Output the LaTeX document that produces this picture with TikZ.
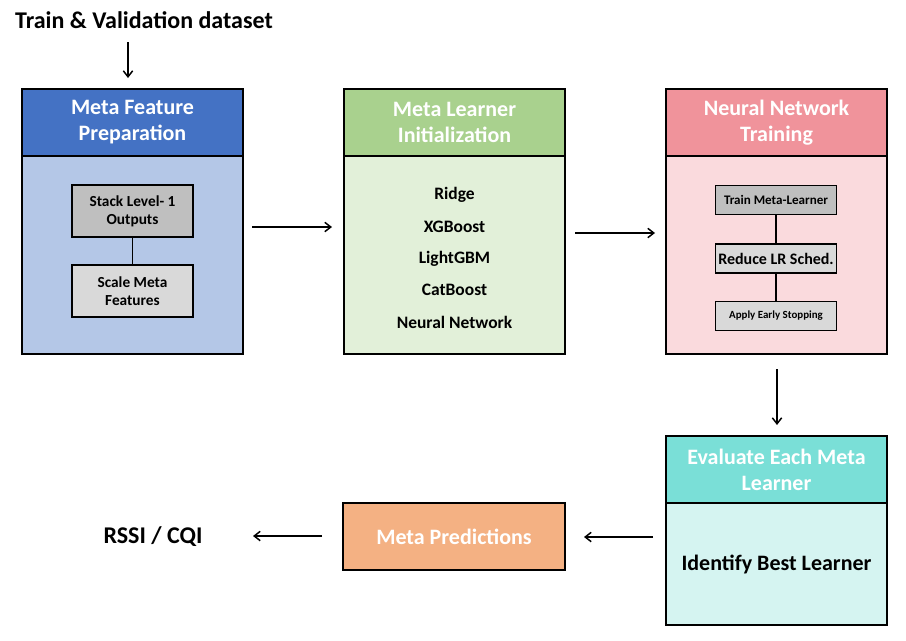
\documentclass[tikz,border=0pt]{standalone}
\usepackage{fontspec}
\setmainfont{Carlito}
\usetikzlibrary{arrows.meta}
\definecolor{hblue}{HTML}{4472C4}
\definecolor{bblue}{HTML}{B4C7E7}
\definecolor{hgreen}{HTML}{A9D18E}
\definecolor{bgreen}{HTML}{E2F0D9}
\definecolor{hpink}{HTML}{F0939B}
\definecolor{bpink}{HTML}{FADADD}
\definecolor{hteal}{HTML}{7ADFD7}
\definecolor{bteal}{HTML}{D5F4F1}
\definecolor{horange}{HTML}{F4B183}
\definecolor{gdark}{HTML}{BFBFBF}
\definecolor{glight}{HTML}{D9D9D9}
\tikzset{
  header/.style={draw=black, line width=1.5pt, minimum width=165.75pt, minimum height=50.25pt,
    text=white, font=\fontsize{16.5}{19.5}\selectfont\bfseries, align=center, inner sep=0pt},
  body/.style={draw=black, line width=1.5pt, minimum width=165.75pt, minimum height=148.5pt, inner sep=0pt},
  inner/.style={draw=black, line width=1.2pt, minimum width=90.5pt, inner sep=0pt, align=center,
    font=\fontsize{11.5}{13.5}\selectfont\bfseries},
  item/.style={font=\fontsize{13.1}{15}\selectfont\bfseries, inner sep=0pt},
  plain/.style={font=\fontsize{16.5}{19}\selectfont\bfseries, inner sep=0pt},
  arr/.style={line width=1.1pt, -{Straight Barb[length=4.5pt,width=7pt,line width=1.1pt]}},
  link/.style={line width=1.2pt}
}
\begin{document}
\begin{tikzpicture}[x=0.75pt,y=-0.75pt]
\useasboundingbox (0,0) rectangle (906,640);
% title
\node[font=\fontsize{18}{21}\selectfont\bfseries, inner sep=0pt] (title) at (144,20) {Train \& Validation dataset};
\coordinate (t0) at (128,42);
\coordinate (t1) at (128,78);
\draw[arr] (t0) -- (t1);
% box 1
\node[body, fill=bblue] (b1) at (132.5,255) {};
\node[header, fill=hblue] (h1) at (132.5,122.5) {Meta Feature\\Preparation};
\node[inner, fill=gdark, minimum height=39pt] (s1) at (132.5,211) {Stack Level- 1\\Outputs};
\node[inner, fill=glight, minimum height=39pt] (s2) at (132.5,291) {Scale Meta\\Features};
\draw[link] (s1) -- (s2);
% box 2
\node[body, fill=bgreen] (b2) at (454.5,255) {};
\node[header, fill=hgreen] (h2) at (454.5,122.5) {Meta Learner\\Initialization};
\node[item] (i1) at (454.5,195) {Ridge};
\node[item] (i2) at (454.5,227) {XGBoost};
\node[item] (i3) at (454.5,259) {LightGBM};
\node[item] (i4) at (454.5,290) {CatBoost};
\node[item] (i5) at (454.5,322) {Neural Network};
% box 3
\node[body, fill=bpink] (b3) at (776.5,255) {};
\node[header, fill=hpink] (h3) at (776.5,122.5) {Neural Network\\Training};
\node[inner, fill=gdark, minimum height=22pt, font=\fontsize{9.8}{11}\selectfont\bfseries] (n1) at (776,200) {Train Meta-Learner};
\node[inner, fill=glight, minimum height=22pt, font=\fontsize{12}{13}\selectfont\bfseries] (n2) at (776,258.5) {Reduce LR Sched.};
\node[inner, fill=glight, minimum height=22pt, font=\fontsize{8.2}{9}\selectfont\bfseries] (n3) at (776,316) {Apply Early Stopping};
\draw[link] (n1) -- (n2);
\draw[link] (n2) -- (n3);
% box 4
\node[body, fill=bteal, minimum height=91.5pt] (b4) at (776.5,564) {};
\node[header, fill=hteal] (h4) at (776.5,469.5) {Evaluate Each Meta\\Learner};
\node[plain] (best) at (776.5,564) {Identify Best Learner};
% meta predictions
\node[header, fill=horange, minimum width=166.5pt] (mp) at (454,536.5) {Meta Predictions};
% output
\node[font=\fontsize{18}{21}\selectfont\bfseries, inner sep=0pt] (out) at (153,537) {RSSI / CQI};
% arrows
\coordinate (a1s) at (252,227); \coordinate (a1e) at (332,227);
\coordinate (a2s) at (575,233); \coordinate (a2e) at (655,233);
\coordinate (a3s) at (777,369); \coordinate (a3e) at (777,425);
\coordinate (a4s) at (653,537); \coordinate (a4e) at (584,537);
\coordinate (a5s) at (322,536); \coordinate (a5e) at (253,536);
\draw[arr] (a1s) -- (a1e);
\draw[arr] (a2s) -- (a2e);
\draw[arr] (a3s) -- (a3e);
\draw[arr] (a4s) -- (a4e);
\draw[arr] (a5s) -- (a5e);
\end{tikzpicture}
\end{document}
